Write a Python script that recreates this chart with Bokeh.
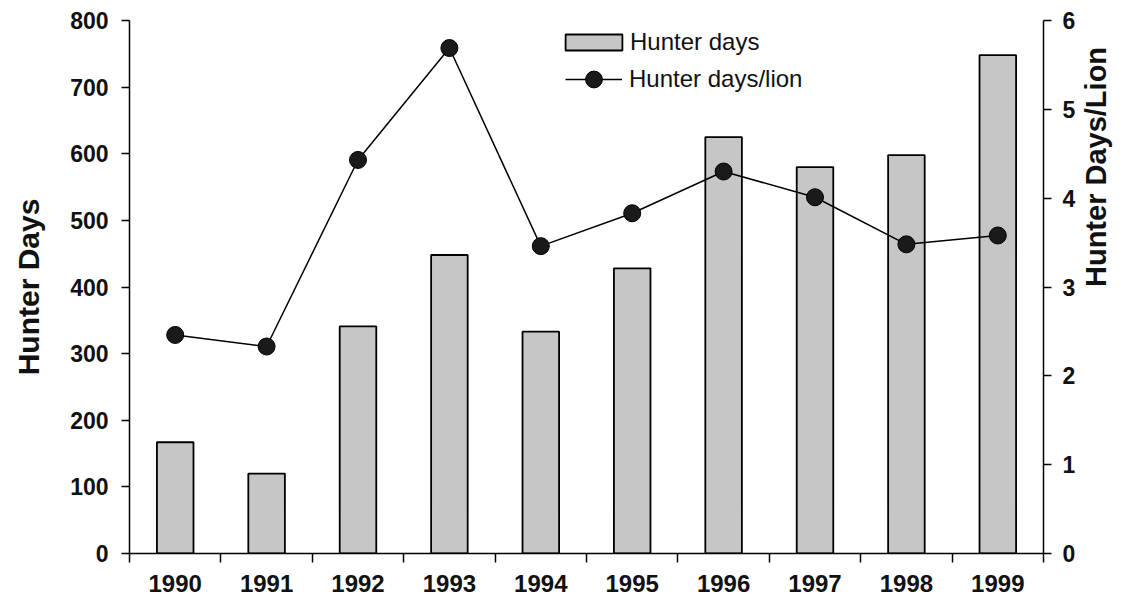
import math
from bokeh.plotting import figure
from bokeh.models import (ColumnDataSource, Range1d, LinearAxis, FixedTicker,
                          Legend, LegendItem)
from bokeh.embed import file_html
from bokeh.resources import INLINE

years = ["1990", "1991", "1992", "1993", "1994", "1995", "1996", "1997", "1998", "1999"]
hunter_days = [167, 120, 341, 448, 333, 428, 625, 580, 598, 748]
days_per_lion = [2.46, 2.33, 4.43, 5.69, 3.46, 3.83, 4.30, 4.01, 3.48, 3.58]

FONT = "Liberation Sans"

xpos = [i + 0.5 for i in range(len(years))]
src = ColumnDataSource(dict(x=xpos, hd=hunter_days, hdl=days_per_lion))

p = figure(width=1131, height=600, output_backend="svg", toolbar_location=None,
           x_range=Range1d(0, len(years)), y_range=Range1d(0, 800),
           min_border_left=129, min_border_right=78, min_border_top=20,
           min_border_bottom=47, x_axis_location=None, y_axis_location=None)
p.outline_line_color = None
p.xgrid.visible = False
p.ygrid.visible = False
p.background_fill_color = "white"
p.border_fill_color = "white"
p.extra_y_ranges = {"r": Range1d(0, 6)}

# x axis: labels centered, ticks between categories
xaxis = LinearAxis(ticker=FixedTicker(ticks=xpos, minor_ticks=list(range(len(years) + 1))))
xaxis.major_label_overrides = {v: y for v, y in zip(xpos, years)}
xaxis.major_tick_line_color = None
xaxis.minor_tick_out = 9
xaxis.minor_tick_in = 0
xaxis.minor_tick_line_color = "black"
xaxis.minor_tick_line_width = 1.5
xaxis.axis_line_width = 1.5
xaxis.major_label_text_font = FONT
xaxis.major_label_text_font_style = "bold"
xaxis.major_label_text_font_size = "24px"
xaxis.major_label_text_color = "#111111"
xaxis.major_label_standoff = 12
p.add_layout(xaxis, "below")

yaxis = LinearAxis(ticker=FixedTicker(ticks=list(range(0, 801, 100))),
                   axis_label="Hunter Days")
yaxis.minor_tick_line_color = None
yaxis.major_tick_out = 8
yaxis.major_tick_in = 0
yaxis.major_tick_line_width = 1.5
yaxis.axis_line_width = 1.5
yaxis.major_label_text_font = FONT
yaxis.major_label_text_font_style = "bold"
yaxis.major_label_text_font_size = "23px"
yaxis.major_label_text_color = "#111111"
yaxis.major_label_standoff = 13
yaxis.axis_label_text_font = FONT
yaxis.axis_label_text_font_style = "bold"
yaxis.axis_label_text_font_size = "30px"
yaxis.axis_label_text_color = "#111111"
yaxis.axis_label_standoff = 22
p.add_layout(yaxis, "left")

raxis = LinearAxis(y_range_name="r", ticker=FixedTicker(ticks=list(range(0, 7))),
                   axis_label="Hunter Days/Lion")
raxis.minor_tick_line_color = None
raxis.major_tick_out = 8
raxis.major_tick_in = 0
raxis.major_tick_line_width = 1.5
raxis.axis_line_width = 1.5
raxis.major_label_text_font = FONT
raxis.major_label_text_font_style = "bold"
raxis.major_label_text_font_size = "23px"
raxis.major_label_text_color = "#111111"
raxis.major_label_standoff = 11
raxis.axis_label_text_font = FONT
raxis.axis_label_text_font_style = "bold"
raxis.axis_label_text_font_size = "29px"
raxis.axis_label_text_color = "#111111"
raxis.axis_label_standoff = 18
raxis.axis_label_orientation = math.pi / 2
p.add_layout(raxis, "right")

bars = p.vbar(x="x", top="hd", width=0.4, bottom=0, source=src,
              fill_color="#c6c6c6", line_color="black", line_width=1.8)
ln = p.line(x="x", y="hdl", source=src, y_range_name="r", line_color="black", line_width=1.5)
pts = p.scatter(x="x", y="hdl", source=src, y_range_name="r", size=17,
                fill_color="#1a1a1a", line_color="black")

leg1 = Legend(items=[LegendItem(label="Hunter days", renderers=[bars])],
              location=(429, 497), orientation="vertical")
leg2 = Legend(items=[LegendItem(label="Hunter days/lion", renderers=[ln, pts])],
              location=(436, 453), orientation="vertical")
for lg, gw, gh, so in ((leg1, 71, 20, 1), (leg2, 57, 42, 7)):
    lg.background_fill_alpha = 0
    lg.border_line_color = None
    lg.padding = 0
    lg.margin = 0
    lg.spacing = 0
    lg.glyph_width = gw
    lg.glyph_height = gh
    lg.label_height = 20
    lg.label_standoff = so
    lg.label_text_font = FONT
    lg.label_text_font_size = "24px"
    lg.label_text_color = "#111111"
    p.add_layout(lg, "center")

open("out.html", "w").write(file_html(p, INLINE))
